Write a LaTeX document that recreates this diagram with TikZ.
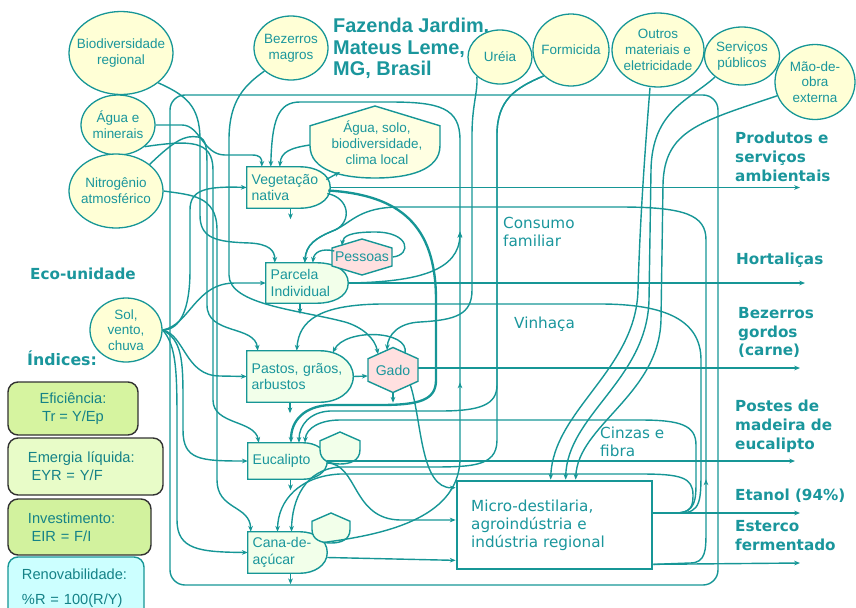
\documentclass[tikz,border=0pt]{standalone}
\usepackage{fontspec}
\setmainfont{Liberation Sans}
\newfontfamily\rotulo{DejaVu Sans}
\usetikzlibrary{shapes,arrows.meta,positioning,calc,backgrounds,decorations.markings}

\definecolor{linha}{RGB}{22,150,150}
\definecolor{texto}{RGB}{26,150,156}
\definecolor{indtexto}{RGB}{20,130,135}
\definecolor{fontefill}{RGB}{255,255,214}
\definecolor{vegfill}{RGB}{255,255,226}
\definecolor{prodfill}{RGB}{242,255,234}
\definecolor{consfill}{RGB}{255,224,224}
\definecolor{borda}{RGB}{50,50,50}
\definecolor{indA}{RGB}{214,244,160}
\definecolor{indB}{RGB}{232,252,200}
\definecolor{indC}{RGB}{210,242,158}
\definecolor{indD}{RGB}{204,255,255}

\tikzset{
  fonte/.style={ellipse, draw=linha, line width=1.1pt, fill=fontefill, inner sep=0pt},
  fontetxt/.style={align=center, inner sep=0pt, text=texto, font=\fontsize{11.5}{13.5}\selectfont},
  prodtxt/.style={rectangle, align=left, inner xsep=4pt, inner ysep=0pt, text=texto, font=\fontsize{12}{14}\selectfont},
  constxt/.style={rectangle, inner sep=0pt, text=texto, font=\fontsize{12}{14}\selectfont},
  saida/.style={anchor=north west, align=left, inner sep=0pt, text=texto, font=\rotulo\bfseries\fontsize{13}{16}\selectfont},
  rotint/.style={anchor=north west, align=left, inner sep=0pt, text=texto, font=\rotulo\fontsize{13}{15}\selectfont},
  indice/.style={draw=#1, line width=1.2pt, rounded corners=0.3cm, inner sep=0pt, text=indtexto, font=\fontsize{12.5}{15.5}\selectfont},
  fluxo/.style={color=linha, line width=1.2pt, ->},
  grosso/.style={line width=2pt},
  marca/.style={postaction={decorate, decoration={markings, mark=at position #1 with {\arrow{>}}}}},
  sistema/.style={draw=linha, line width=1.2pt, rounded corners=0.45cm}
}

% produtor: lado esquerdo reto, lado direito arredondado
\newcommand{\produtor}[3]{%
  \path[draw=linha, line width=1.2pt, fill=#3] (#1.south west) -- (#1.north west)
    -- ($(#1.north east)+(-#2,0)$) to[out=0,in=90] (#1.east)
    to[out=-90,in=0] ($(#1.south east)+(-#2,0)$) -- cycle;}
% consumidor: hexagono
\newcommand{\hexagono}[3]{%
  \path[draw=linha, line width=1.2pt, fill=consfill] ($(#1)+(-#2,-#3/2)$) -- ($(#1)+(0,-#3)$)
    -- ($(#1)+(#2,-#3/2)$) -- ($(#1)+(#2,#3/2)$) -- ($(#1)+(0,#3)$) -- ($(#1)+(-#2,#3/2)$) -- cycle;}
% estoque: topo pontudo, base arredondada
\newcommand{\escudo}[4]{%
  \path[draw=linha, line width=1.2pt, fill=#4] ($(#1)+(-#2,-0.45*#3)$) -- ($(#1)+(0,-#3)$)
    -- ($(#1)+(#2,-0.45*#3)$) -- ($(#1)+(#2,0.1*#3)$)
    .. controls ($(#1)+(#2,0.8*#3)$) and ($(#1)+(0.5*#2,#3)$) .. ($(#1)+(0,#3)$)
    .. controls ($(#1)+(-0.5*#2,#3)$) and ($(#1)+(-#2,0.8*#3)$) .. ($(#1)+(-#2,0.1*#3)$) -- cycle;}

\begin{document}
\begin{tikzpicture}[x=0.03cm, y=-0.03cm, >={Stealth[length=5pt,width=4pt]}]
    \useasboundingbox (0,0) rectangle (856,607);

    % titulo e rotulos
    \node[anchor=north west, align=left, inner sep=0pt, text=texto, font=\bfseries\fontsize{17}{18.4}\selectfont] (titulo) at (333,18) {Fazenda Jardim,\\Mateus Leme,\\MG, Brasil};
    \node[saida, anchor=base west] (eco) at (30,279) {Eco-unidade};
    \node[saida, anchor=base west, font=\rotulo\bfseries\fontsize{13.5}{16}\selectfont] (indices) at (27,365) {Índices:};

    % fontes externas
    \node[fonte, minimum width=3.12cm, minimum height=2.49cm] (biodiv) at (121,53) {};
    \node[fontetxt] (biodivtxt) at (biodiv) {Biodiversidade\\regional};
    \node[fonte, minimum width=2.22cm, minimum height=1.8cm] (agua) at (118,125) {};
    \node[fontetxt] (aguatxt) at (agua) {Água e\\minerais};
    \node[fonte, minimum width=2.82cm, minimum height=2.22cm] (nitro) at (116,191) {};
    \node[fontetxt] (nitrotxt) at (nitro) {Nitrogênio\\atmosférico};
    \node[fonte, minimum width=2.22cm, minimum height=1.92cm] (bezmag) at (291,48) {};
    \node[fontetxt] (bezmagtxt) at (bezmag) {Bezerros\\magros};
    \node[fonte, minimum width=1.92cm, minimum height=1.62cm] (ureia) at (500,57) {};
    \node[fontetxt] (ureiatxt) at (ureia) {Uréia};
    \node[fonte, minimum width=2.28cm, minimum height=2.16cm] (formic) at (571,50) {};
    \node[fontetxt] (formictxt) at (formic) {Formicida};
    \node[fonte, minimum width=2.76cm, minimum height=2.22cm] (outros) at (658,50) {};
    \node[fontetxt] (outrostxt) at (outros) {Outros\\materiais e\\eletricidade};
    \node[fonte, minimum width=2.25cm, minimum height=1.74cm] (servpub) at (742,56) {};
    \node[fontetxt] (servpubtxt) at (servpub) {Serviços\\públicos};
    \node[fonte, minimum width=2.4cm, minimum height=2.25cm] (maoobra) at (815,82) {};
    \node[fontetxt] (maoobratxt) at (maoobra) {Mão-de-\\obra\\externa};
    \node[fonte, minimum width=2.16cm, minimum height=1.92cm] (sol) at (126,330) {};
    \node[fontetxt] (soltxt) at (sol) {Sol,\\vento,\\chuva};

    % produtores, consumidores, estoques
    \node[prodtxt, text width=2.21cm, minimum height=1.23cm] (veg) at (288.5,187.5) {Vegetação\\nativa};
    \node[prodtxt, text width=2.18cm, minimum height=1.2cm] (parcela) at (307,283) {Parcela\\Individual};
    \node[prodtxt, text width=2.9cm, minimum height=1.53cm] (pastos) at (300,376.5) {Pastos, grãos,\\arbustos};
    \node[prodtxt, text width=2.09cm, minimum height=1.08cm] (euc) at (287.5,461) {Eucalipto};
    \node[prodtxt, text width=2.09cm, minimum height=1.23cm] (cana) at (287.5,552.5) {Cana-de-\\açúcar};
    \node[constxt, minimum width=1.83cm, minimum height=1.08cm] (pessoas) at (362,257) {Pessoas};
    \node[constxt, minimum width=1.5cm, minimum height=1.35cm] (gado) at (393,370) {Gado};
    \node[rectangle, inner sep=0pt, minimum width=3.9cm, minimum height=2.16cm] (estoque) at (375,142) {};
    \node[fontetxt] (estoquetxt) at (377,143) {Água, solo,\\biodiversidade,\\clima local};
    \coordinate (escudoEuc) at (340,448);
    \coordinate (escudoCana) at (331,528);
    \node[draw=linha, line width=2.3pt, fill=white, minimum width=5.85cm, minimum height=2.64cm, text width=5.0cm, inner xsep=0.42cm, align=left, text=texto, font=\rotulo\fontsize{13}{15.5}\selectfont] (micro) at (554.5,525) {Micro-destilaria,\\agroindústria e\\indústria regional};

    % indices
    \node[indice=borda, fill=indA, minimum width=3.9cm, minimum height=1.59cm, align=center] (efic) at (73,408.5) {Eficiência:\\Tr = Y/Ep};
    \node[indice=borda, fill=indB, minimum width=4.65cm, minimum height=1.71cm, text width=3.45cm, align=left] (emerg) at (85.5,466.5) {Emergia líquida:\\\hspace{3pt}EYR = Y/F};
    \node[indice=borda, fill=indC, minimum width=4.29cm, minimum height=1.68cm, text width=3.09cm, align=left] (invest) at (79.5,527) {Investimento:\\\hspace{3pt}EIR = F/I};
    \node[indice=linha, fill=indD, minimum width=4.08cm, minimum height=1.86cm, text width=3.24cm, align=left, font=\fontsize{12.5}{21}\selectfont] (renov) at (76,588) {Renovabilidade:\\\%R = 100(R/Y)};

    % saidas
    \node[saida] (prodtxt) at (735,132) {Produtos e\\serviços\\ambientais};
    \node[saida, anchor=base west] (horttxt) at (736,264) {Hortaliças};
    \node[saida] (beztxt) at (738,307) {Bezerros\\gordos\\(carne)};
    \node[saida] (postestxt) at (735,400) {Postes de\\madeira de\\eucalipto};
    \node[saida, anchor=base west] (etanoltxt) at (735,500) {Etanol (94\%)};
    \node[saida] (estercotxt) at (735,520) {Esterco\\fermentado};
    \node[rotint] (consumotxt) at (503,217) {Consumo\\familiar};
    \node[rotint, anchor=base west] (vinhacatxt) at (514,328) {Vinhaça};
    \node[rotint] (cinzastxt) at (600,427) {Cinzas e\\fibra};

    \coordinate (saidaProd) at (800,187.5);
    \coordinate (saidaHort) at (805,283);
    \coordinate (saidaBez) at (800,368);
    \coordinate (saidaPostes) at (795,461);
    \coordinate (saidaEtanol) at (800,513);
    \coordinate (saidaEsterco) at (800,563);
    \coordinate (consumoSobe) at (460,232);

    \begin{scope}[on background layer]
        \draw[sistema] (170,95) rectangle (718,585);
        \produtor{veg}{30}{vegfill}
        \produtor{parcela}{31}{prodfill}
        \produtor{pastos}{33}{prodfill}
        \produtor{euc}{24}{prodfill}
        \produtor{cana}{27}{prodfill}
        \hexagono{pessoas}{30}{18}
        \hexagono{gado}{25}{22.5}
        \escudo{estoque}{65}{36}{vegfill}
        \escudo{escudoEuc}{20}{16}{prodfill}
        \escudo{escudoCana}{19}{15}{prodfill}
    \end{scope}

    % entradas pela esquerda
    \draw[fluxo] (biodiv.south east) .. controls (185,95) and (200,105) .. (200,140) -- (200,215) .. controls (200,238) and (215,242) .. (250,243) .. controls (268,244) and (275,250) .. ($(parcela.north west)+(9,0)$);
    \draw[fluxo] (agua.east) -- (182,125) .. controls (200,125) and (203,155) .. (225,155) -- (252,155) .. controls (260,155) and (262,158) .. ($(veg.north west)+(15,0)$);
    \draw[fluxo] (agua.south east) .. controls (190,140) and (213,140) .. (213,170) -- (213,400) .. controls (213,425) and (255,420) .. ($(euc.north west)+(11,0)$);
    \draw[fluxo] (nitro.north east) .. controls (175,140) and (185,135) .. (198,137) .. controls (207,138) and (207,150) .. (207,170) -- (207,305) .. controls (207,335) and (255,325) .. ($(pastos.north west)+(11,0)$);
    \draw[fluxo] (nitro.east) .. controls (190,195) and (217,195) .. (217,230) -- (217,480) .. controls (217,510) and (250,505) .. ($(cana.north west)+(3,0)$);
    \draw[fluxo] (sol.east) .. controls (180,330) and (190,310) .. (190,270) -- (190,210) .. controls (190,190) and (205,186) .. (veg.west);
    \draw[fluxo] (sol.east) .. controls (190,325) and (195,283) .. (235,283) -- (parcela.west);
    \draw[fluxo] (sol.east) .. controls (185,335) and (185,376) .. (220,376) -- (pastos.west);
    \draw[fluxo] (sol.east) .. controls (182,340) and (183,360) .. (183,400) -- (183,430) .. controls (183,460) and (200,461) .. (euc.west);
    \draw[fluxo] (sol.east) .. controls (176,345) and (177,370) .. (177,420) -- (177,520) .. controls (177,550) and (200,552) .. (cana.west);

    % entradas pelo topo
    \draw[fluxo] (bezmag.south west) .. controls (245,85) and (229,100) .. (229,140) -- (229,275) .. controls (229,305) and (300,310) .. (345,322) .. controls (362,327) and (375,338) .. ($(gado.north)+(-15,7)$);
    \draw[fluxo] (ureia.south west) .. controls (478,92) and (472,105) .. (472,135) -- (472,290) .. controls (472,315) and (455,320) .. (420,322) .. controls (398,323) and (388,335) .. ($(gado.north)+(-6,3)$);
    \draw[fluxo] (formic.south west) .. controls (515,88) and (497,100) .. (497,135) -- (497,385) .. controls (497,405) and (480,411) .. (440,411) -- (330,411) .. controls (310,412) and (299,425) .. ($(euc.north)+(11.5,0)$);
    \draw[fluxo] (formic.south west) .. controls (515,88) and (497,100) .. (497,135) -- (497,440) .. controls (497,468) and (470,467) .. (420,467) -- (340,467) .. controls (305,469) and (292,500) .. ($(cana.north)+(4,0)$);
    \draw[fluxo] ($(outros.south)+(-8,0)$) .. controls (645,150) and (640,220) .. (638,290) .. controls (636,370) and (553,410) .. ($(micro.north west)+(95,0)$);
    \draw[fluxo] (servpub.south west) .. controls (690,100) and (652,110) .. (651,170) -- (649,300) .. controls (647,380) and (567,415) .. ($(micro.north west)+(110,0)$);
    \draw[fluxo] (maoobra.200) .. controls (700,122) and (664,130) .. (663,185) -- (661,320) .. controls (659,395) and (578,425) .. ($(micro.north west)+(120,0)$);

    % vegetacao nativa e estoque
    \draw[fluxo] (veg.east) -- (saidaProd);
    \draw[fluxo] ($(veg.east)+(-4,-8)$) -- (340,172);
    \draw[fluxo] ($(estoque.west)+(0,3)$) .. controls (290,148) and (281,152) .. ($(veg.north west)+(33,0)$);
    \draw[fluxo] ($(veg.east)+(-3,6)$) .. controls (350,198) and (352,222) .. (335,230) .. controls (315,238) and (306,245) .. ($(parcela.north west)+(39,0)$);
    \draw[fluxo, grosso] ($(veg.east)+(-2,3)$) .. controls (400,195) and (436,225) .. (436,300) -- (436,380) .. controls (436,400) and (420,405) .. (380,405) -- (330,405) .. controls (305,406) and (291,420) .. ($(euc.north)+(3.5,0)$);
    \draw[fluxo, marca=0.333, marca=0.533] ($(cana.east)+(-4,-10)$) .. controls (380,535) and (458,520) .. (460,460) -- (460,140) .. controls (460,108) and (440,102) .. (390,102) -- (300,102) .. controls (278,102) and (272,120) .. ($(veg.north west)+(24,0)$);

    % parcela e pessoas
    \draw[fluxo] (parcela.east) -- (saidaHort);
    \draw[fluxo] (parcela.east) .. controls (420,282) and (459,270) .. (consumoSobe);
    \draw[fluxo] ($(pessoas.west)+(3,-6)$) .. controls (322,248) and (314,252) .. ($(parcela.north west)+(47,0)$);
    \draw[fluxo] (pessoas.east) .. controls (412,255) and (410,232) .. (375,232) .. controls (350,232) and (343,236) .. ($(pessoas.north)+(-20,7)$);

    % pastos e gado
    \draw[fluxo] (pastos.east) -- ($(gado.west)+(0,6)$);
    \draw[fluxo] ($(gado.east)+(0,-2)$) -- (saidaBez);
    \draw[fluxo] ($(gado.south east)+(-8,-8)$) .. controls (422,420) and (420,489) .. ($(micro.north west)+(0,8)$);
    \draw[fluxo] ($(gado.north)+(12,6)$) .. controls (410,330) and (345,328) .. ($(pastos.north west)+(86,2)$);

    % eucalipto e cana
    \draw[fluxo] (euc.east) -- (saidaPostes);
    \draw[fluxo] ($(euc.east)+(0,2)$) .. controls (358,464) and (352,519) .. (400,520) -- ($(micro.west)+(0,-5)$);
    \draw[fluxo] ($(cana.east)+(0,5)$) -- ($(micro.south west)+(0,-10)$);

    % micro-destilaria
    \draw[fluxo] ($(micro.east)+(0,-12)$) -- (saidaEtanol);
    \draw[fluxo] ($(micro.south east)+(0,-6)$) -- (saidaEsterco);
    \draw[fluxo, marca=0.16] ($(micro.south east)+(0,-6)$) -- (690,563) .. controls (706,563) and (706,550) .. (706,530) -- (706,240) .. controls (706,215) and (685,207) .. (620,207) -- (400,207) .. controls (360,207) and (352,222) .. (335,230) .. controls (315,238) and (306,245) .. ($(parcela.north west)+(39,0)$);
    \draw[fluxo] ($(micro.east)+(0,-12)$) -- (680,513) .. controls (701,513) and (701,500) .. (701,470) -- (701,360) .. controls (701,320) and (665,304) .. (600,304) -- (380,304) .. controls (320,305) and (299,320) .. ($(pastos.north west)+(50,0)$);
    \draw[fluxo] ($(micro.east)+(0,-12)$) -- (675,513) .. controls (696,513) and (696,500) .. (696,480) -- (696,445) .. controls (696,425) and (680,420) .. (640,420) -- (340,420) .. controls (320,420) and (306,428) .. ($(euc.north)+(17.5,0)$);
    \draw[fluxo] ($(micro.east)+(0,-12)$) -- (675,513) .. controls (692,513) and (693,505) .. (693,495) .. controls (693,477) and (680,474) .. (640,474) -- (340,474) .. controls (300,476) and (278,500) .. ($(cana.north)+(-10,0)$);

    % sumidouros
    \draw[fluxo] ($(veg.south)+(2,0)$) -- ++(0,11);
    \draw[fluxo] ($(parcela.south)+(-7,0)$) -- ++(0,11);
    \draw[fluxo] ($(pastos.south)+(-10,0)$) -- ++(0,11);
    \draw[fluxo] ($(euc.south)+(3,0)$) -- ++(0,11);
    \draw[fluxo] ($(cana.south)+(3,0)$) -- ++(0,11);
    \draw[fluxo] (gado.south) -- ++(0,10);
\end{tikzpicture}
\end{document}
